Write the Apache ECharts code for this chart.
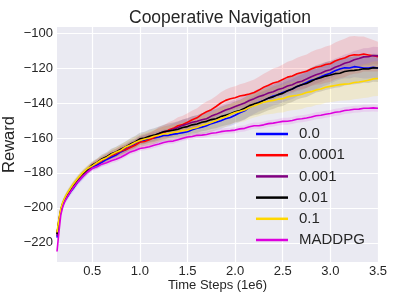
<!DOCTYPE html>
<html><head><meta charset="utf-8">
<script src="https://cdn.jsdelivr.net/npm/echarts@6/dist/echarts.min.js"></script>
<style>html,body{margin:0;padding:0;background:#fff}#c{width:407px;height:305px}</style>
</head><body><div id="c"></div>
<script>
// x positions (1e6 time steps)
const X = [0.13,0.15,0.17,0.19,0.21,0.24,0.27,0.30,0.35,0.40,0.45,
0.50,0.55,0.60,0.65,0.70,0.75,0.80,0.85,0.90,0.95,1.00,1.05,1.10,1.15,1.20,1.25,1.30,1.35,1.40,1.45,
1.50,1.55,1.60,1.65,1.70,1.75,1.80,1.85,1.90,1.95,2.00,2.05,2.10,2.15,2.20,2.25,2.30,2.35,2.40,2.45,
2.50,2.55,2.60,2.65,2.70,2.75,2.80,2.85,2.90,2.95,3.00,3.05,3.10,3.15,3.20,3.25,3.30,3.35,3.40,3.45,3.50];

const NAMES = ['0.0','0.0001','0.001','0.01','0.1','MADDPG'];
const COLORS = ['#0000FF','#FF0000','#800080','#000000','#FFD700','#DD00DD'];

const S_0 = [-217,-209,-202,-198.5,-196,-193.5,-191,-189,-185,-182,-179,
-176.5,-175.5,-174,-172.3,-171,-169.8,-168,-166.8,-165,-163.8,-162,-161.3,-160.5,-160,-159.5,-158.6,-158.5,-157.8,-157.5,-157,
-156.5,-155.3,-154.5,-153.8,-153,-151.8,-151,-150.2,-149,-148.3,-147,-145.6,-144.5,-142.5,-141,-139.5,-138.5,-137.2,-136,-135.3,
-134,-133,-132,-130.6,-129.5,-128.2,-127,-126.3,-125,-123.8,-123,-121.5,-120.5,-119.8,-120,-119.2,-119.5,-120,-120,-119.6,-120];
const S_1e4 = [-215,-207.5,-201.5,-198,-195.5,-192.5,-190,-187.5,-184,-181,-178.5,
-176,-174.5,-173,-171.4,-170,-169,-167.5,-166.8,-165.5,-164.2,-162.5,-162,-161,-159.7,-158,-157,-155.5,-154.5,-153,-152.3,
-151,-149.6,-148.5,-146.5,-145,-143.8,-142,-140,-138.5,-137.6,-137,-136,-135.5,-134.8,-134,-132.6,-131,-129.8,-128.5,-127.8,
-126.5,-125.2,-124.5,-123.3,-122.5,-121.8,-120.5,-119.5,-119,-118,-117.5,-116,-115,-114.2,-113,-112.4,-112.5,-112,-112.5,-113,-113.5];
const S_1e3 = [-216,-208,-201.5,-198,-195.5,-192.5,-190,-187.5,-184,-181,-178.5,
-176,-174.3,-172.5,-171.2,-169.5,-168.5,-167,-165.7,-164,-162.8,-161,-160.4,-159.5,-158.7,-157.5,-156.4,-156,-155,-154,-152.8,
-152,-151,-150.5,-149.6,-149,-147.5,-146.5,-145.3,-144,-143.2,-142,-141,-140,-138.6,-137.5,-136.3,-135.5,-134.3,-133.5,-132.3,
-131.5,-130.3,-129.5,-128.2,-127.5,-126.3,-125,-123.8,-123,-121.7,-121,-119.5,-118.5,-117.3,-116.5,-115.2,-114.5,-113.6,-113.5,-112.8,-113];
const S_1e2 = [-215,-207,-201,-197.5,-195,-192,-189.5,-187,-183.5,-180.5,-178,
-175.5,-174,-172,-170.8,-169,-168,-166.5,-165.2,-163.5,-162.3,-160.5,-160,-159,-158.4,-157.5,-156.5,-156,-155.6,-155,-154,
-153.5,-152.5,-152,-151,-150.5,-149.5,-149,-147.8,-147,-146.2,-145,-144.3,-143,-141.5,-140.5,-139.8,-138.5,-137.2,-136.5,-135.2,
-134.5,-133,-132,-130.5,-129.5,-128.8,-127.5,-126.2,-125.5,-124.6,-124,-123.2,-123,-122,-121.5,-121.3,-121,-120.4,-120.5,-119.8,-120];
const S_1e1 = [-214,-206.5,-200.5,-197,-194.5,-191.5,-189,-186.5,-183,-180,-177.5,
-176,-174.2,-172.5,-171.3,-169.5,-168.2,-167,-165.2,-164,-162.6,-161.5,-160.6,-160,-159,-158.5,-157.6,-157.5,-156.8,-156.5,-155.7,
-155.5,-154.6,-154,-152.8,-152,-151.2,-150,-148.8,-148,-146.6,-145.5,-144.8,-144,-142.6,-141.5,-140.6,-139.5,-139,-138.5,-137.8,
-137.5,-136.5,-136,-135.6,-135,-134,-133.5,-132.5,-132,-131,-130.5,-130,-129.5,-129.2,-129,-128.3,-128,-127.5,-127,-126.2,-126];
const S_MADDPG = [-225,-214,-204,-199.5,-196.5,-193.5,-191,-188.5,-185,-182,-179.5,
-177.5,-176.5,-175,-174.2,-173,-172.2,-171,-169.6,-168,-167.2,-166,-165.6,-165,-164.2,-163.5,-162.6,-162,-161.8,-161,-160.2,
-159.5,-159.2,-158.5,-158.4,-158,-157.3,-157,-156.4,-156,-155.8,-155.5,-154.8,-154.5,-153.6,-153,-153,-152.5,-151.8,-151.5,-151,
-150.5,-150.4,-150,-149.3,-149,-148.6,-148,-147.3,-147,-146.4,-146,-145.3,-145,-144.3,-144,-143.6,-143.5,-143,-143,-142.8,-143];

// half-widths of the shaded bands
const B_0 = [2,2,2,2,2,2,2,2,2,2,2,
2,2.1,2.2,2.3,2.4,2.5,2.6,2.7,2.8,2.9,3,3.1,3.2,3.3,3.4,3.5,3.6,3.7,3.8,3.9,
4,4.1,4.2,4.3,4.4,4.5,4.6,4.7,4.8,4.9,5,5.1,5.2,5.2,5.3,5.3,5.4,5.4,5.5,5.5,
5.6,5.6,5.7,5.7,5.8,5.8,5.9,5.9,6,6,6,6,6,6,6,6,6,6,6,6,6];
const B_1e4 = [2,2,2,2,2,2,2,2,2,2,2,
2,2.2,2.3,2.5,2.6,2.8,3,3,3.2,3.3,3.5,3.7,3.8,4,4.2,4.3,4.5,4.7,4.8,5,
5.2,5.3,5.5,5.6,5.8,6,6,6.2,6.3,6.5,6.6,6.8,7,7.2,7.4,7.6,7.8,8,8.2,8.4,
8.6,8.8,9,9.2,9.4,9.6,9.8,10,10.2,10.4,10.5,10.6,10.8,11,11,10.8,10.5,10,9.5,9,8.5];
const B_1e3 = [2,2,2,2,2,2,2,2,2,2,2,
2,2.1,2.1,2.2,2.3,2.3,2.4,2.5,2.5,2.6,2.7,2.8,2.8,2.9,3,3,3.1,3.2,3.2,3.3,
3.4,3.4,3.5,3.6,3.6,3.7,3.8,3.8,3.9,4,4,4.1,4.2,4.2,4.3,4.4,4.4,4.5,4.6,4.6,
4.7,4.8,4.8,4.9,5,5,5,5,5,5,5,5,5,5,5,5,5,5,5,5,5];
const B_1e2 = [2,2,2,2,2,2,2,2,2,2,2,
2.2,2.3,2.5,2.6,2.8,2.9,3,3.1,3.3,3.4,3.5,3.6,3.8,3.9,4,4.1,4.3,4.4,4.5,4.6,
4.8,4.9,5,5.1,5.3,5.4,5.5,5.6,5.8,5.9,6,6.1,6.3,6.4,6.5,6.6,6.8,6.9,7,7.1,
7.2,7.3,7.4,7.5,7.6,7.7,7.8,7.8,7.9,8,8,8,8,8,8,8,8,8,8,8,8];
const B_1e1 = [2,2,2,2,2,2,2,2,2,2,2,
2.2,2.3,2.5,2.6,2.8,2.9,3,3.1,3.3,3.4,3.5,3.6,3.8,3.9,4,4.1,4.3,4.4,4.5,4.6,
4.8,4.9,5,5.1,5.3,5.4,5.5,5.6,5.8,5.9,6,6.2,6.4,6.6,6.8,7,7.2,7.4,7.6,7.8,
8,8.1,8.2,8.3,8.4,8.5,8.6,8.7,8.8,8.9,9,9.1,9.2,9.3,9.4,9.5,9.6,9.7,9.8,9.9,10];
const B_MADDPG = [1.5,1.5,1.5,1.5,1.5,1.5,1.5,1.5,1.5,1.5,1.5,
1.5,1.5,1.5,1.5,1.5,1.5,1.5,1.5,1.5,1.5,1.5,1.5,1.5,1.5,1.5,1.5,1.5,1.5,1.5,1.5,
1.6,1.6,1.6,1.6,1.6,1.7,1.7,1.7,1.7,1.7,1.8,1.8,1.8,1.8,1.8,1.9,1.9,1.9,1.9,1.9,
2,2,2,2,2,2,2,2,2,2,2,2,2,2,2,2,2,2,2,2,2];

const X_TICKS = [0.5,1.0,1.5,2.0,2.5,3.0,3.5];
const Y_TICKS = [-220,-200,-180,-160,-140,-120,-100];

const MEANS = [S_0,S_1e4,S_1e3,S_1e2,S_1e1,S_MADDPG];
const BANDS = [B_0,B_1e4,B_1e3,B_1e2,B_1e1,B_MADDPG];
const BAND_OPACITY = [0.11, 0.13, 0.12, 0.13, 0.15, 0.11];

const FONT = 'Liberation Sans, Arial, sans-serif';
const series = [];
MEANS.forEach((m, i) => {
  const b = BANDS[i];
  series.push({
    name: NAMES[i] + ' band', type: 'custom', silent: true, z: 1, clip: true,
    encode: { x: 0, y: 1 },
    data: X.map((x, k) => [x, m[k]]),
    renderItem: (params, api) => {
      if (params.dataIndex !== 0) return null;
      const pts = [];
      for (let k = 0; k < X.length; k++) pts.push(api.coord([X[k], m[k] + b[k]]));
      for (let k = X.length - 1; k >= 0; k--) pts.push(api.coord([X[k], m[k] - b[k]]));
      return { type: 'polygon', shape: { points: pts },
        style: { fill: COLORS[i], opacity: BAND_OPACITY[i] } };
    }
  });
});
MEANS.forEach((m, i) => {
  series.push({
    name: NAMES[i], type: 'line', symbol: 'none', showSymbol: false, z: 3 + i,
    color: COLORS[i],
    lineStyle: { color: COLORS[i], width: 1.6 },
    data: X.map((x, k) => [x, m[k]])
  });
});

const chart = echarts.init(document.getElementById('c'), null, { renderer: 'canvas' });
chart.setOption({
  animation: false,
  backgroundColor: '#ffffff',
  title: {
    text: 'Cooperative Navigation', left: 124, top: 4,
    textStyle: { fontFamily: FONT, fontSize: 17.5, fontWeight: 'normal', color: '#262626' }
  },
  legend: {
    data: NAMES, orient: 'vertical', left: 256, top: 126.5, padding: 0,
    icon: 'rect', itemWidth: 32, itemHeight: 2.5, itemGap: 6.2,
    textStyle: { fontFamily: FONT, fontSize: 15, lineHeight: 15, color: '#262626', padding: [0, 0, 0, 6] }
  },
  grid: {
    left: 57, right: 29, top: 27, bottom: 43, show: true,
    backgroundColor: '#EAEAF2', borderWidth: 0, containLabel: false,
    outerBoundsMode: 'none'
  },
  xAxis: {
    type: 'value', min: 0.13, max: 3.5,
    name: 'Time Steps (1e6)', nameLocation: 'middle', nameGap: 17, nameMoveOverlap: false,
    nameTextStyle: { fontFamily: FONT, fontSize: 13, color: '#262626' },
    axisLine: { show: false },
    axisTick: { show: false, customValues: X_TICKS },
    axisLabel: { customValues: X_TICKS, margin: 3, fontFamily: FONT, fontSize: 13, color: '#262626',
      formatter: v => v.toFixed(1) },
    splitLine: { show: true, lineStyle: { color: '#ffffff', width: 1.2 } }
  },
  yAxis: {
    type: 'value', min: -231, max: -96.5,
    name: 'Reward', nameLocation: 'middle', nameGap: 39, nameMoveOverlap: false,
    nameTextStyle: { fontFamily: FONT, fontSize: 16.5, color: '#262626' },
    axisLine: { show: false },
    axisTick: { show: false, customValues: Y_TICKS },
    axisLabel: { customValues: Y_TICKS, margin: 4, fontFamily: FONT, fontSize: 13, color: '#262626',
      formatter: v => (v < 0 ? '\u2212' : '') + Math.abs(v) },
    splitLine: { show: true, lineStyle: { color: '#ffffff', width: 1.2 } }
  },
  series: series
});
</script>
</body></html>
